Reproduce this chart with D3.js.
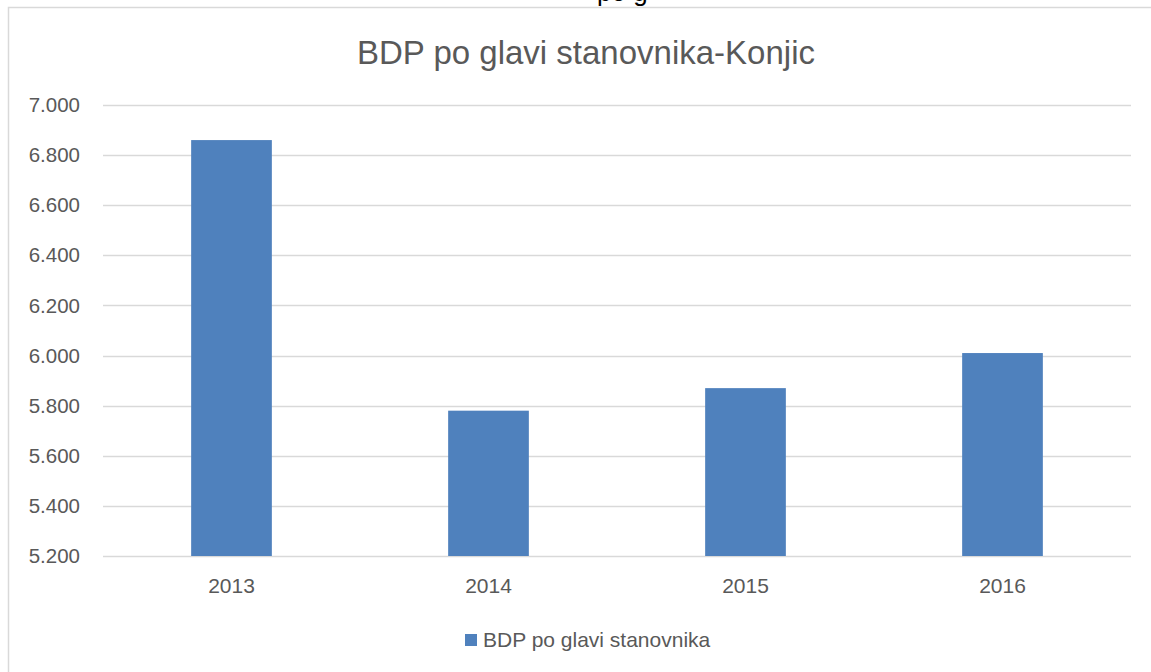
<!DOCTYPE html>
<html>
<head>
<meta charset="utf-8">
<script src="https://cdn.jsdelivr.net/npm/d3@7"></script>
<style>
  body { margin: 0; background: #fff; }
  text { font-family: "Liberation Sans", Arial, sans-serif; fill: #595959; }
</style>
</head>
<body>
<svg width="1151" height="672"></svg>
<script>
const years = ["2013", "2014", "2015", "2016"];
const bdpValues = [6860, 5780, 5870, 6010];
const yTicks = [5200, 5400, 5600, 5800, 6000, 6200, 6400, 6600, 6800, 7000];
const seriesName = "BDP po glavi stanovnika";
const chartTitle = "BDP po glavi stanovnika-Konjic";

const svg = d3.select("svg"),
    width = +svg.attr("width"),
    height = +svg.attr("height");

const margin = {top: 105, right: 20, bottom: 116, left: 103};
const barColor = "#4F81BD";
const gridColor = "#D9D9D9";

// fragment of page text cut off above the chart
svg.append("text")
    .attr("x", 597)
    .attr("y", 1)
    .style("fill", "#000")
    .style("font-size", "26px")
    .text("po g");

// chart area border (runs off the right and bottom)
svg.append("rect")
    .attr("x", 8.5)
    .attr("y", 7.5)
    .attr("width", 1300)
    .attr("height", 800)
    .attr("fill", "#fff")
    .attr("stroke", gridColor)
    .attr("stroke-width", 1.5);

const x = d3.scaleBand()
    .domain(years)
    .range([margin.left, width - margin.right])
    .paddingInner(0.686)
    .paddingOuter(0.343);

const y = d3.scaleLinear()
    .domain([5200, 7000])
    .range([height - margin.bottom, margin.top]);

// gridlines
svg.append("g").attr("class", "grid")
    .selectAll("line")
    .data(yTicks)
    .enter().append("line")
    .attr("x1", margin.left)
    .attr("x2", width - margin.right)
    .attr("y1", d => Math.round(y(d)) + 0.5)
    .attr("y2", d => Math.round(y(d)) + 0.5)
    .attr("stroke", gridColor)
    .attr("stroke-width", 1.5);

// y axis labels
const fmt = d => d3.format(",.3f")(d / 1000).replace(",", "");
const yAxis = svg.append("g")
    .attr("transform", `translate(${margin.left - 23},0)`)
    .call(d3.axisLeft(y).tickValues(yTicks).tickSize(0).tickPadding(0).tickFormat(fmt));
yAxis.select(".domain").remove();
yAxis.selectAll("text")
    .style("font-size", "20.5px")
    .style("fill", "#595959")
    .style("font-family", "Liberation Sans, Arial, sans-serif");

// bars
svg.append("g").attr("class", "bars")
    .selectAll("rect")
    .data(years.map((yr, i) => ({year: yr, value: bdpValues[i]})))
    .enter().append("rect")
    .attr("x", d => x(d.year))
    .attr("width", x.bandwidth())
    .attr("y", d => y(d.value))
    .attr("height", d => y(5200) - y(d.value))
    .attr("fill", barColor);

// x axis labels
const xAxis = svg.append("g")
    .attr("transform", `translate(0,${height - margin.bottom + 22})`)
    .call(d3.axisBottom(x).tickSize(0).tickPadding(0));
xAxis.select(".domain").remove();
xAxis.selectAll("text")
    .style("font-size", "21px")
    .style("fill", "#595959")
    .style("font-family", "Liberation Sans, Arial, sans-serif");

// title
svg.append("text")
    .attr("x", 586)
    .attr("y", 64)
    .attr("text-anchor", "middle")
    .style("font-size", "33px")
    .text(chartTitle);

// legend
const legend = svg.append("g").attr("transform", "translate(465,634)");
legend.append("rect")
    .attr("width", 12)
    .attr("height", 12)
    .attr("fill", barColor);
legend.append("text")
    .attr("x", 18)
    .attr("y", 13)
    .style("font-size", "21px")
    .text(seriesName);
</script>
</body>
</html>
